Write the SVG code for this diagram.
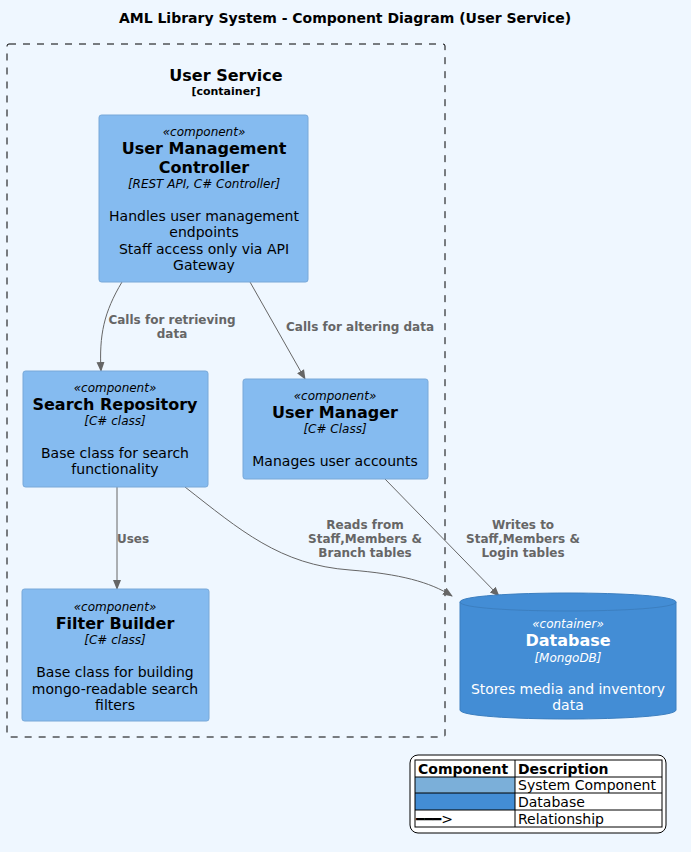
<svg xmlns="http://www.w3.org/2000/svg" width="691" height="852" viewBox="0 0 691 852">
<defs>
<style>
text{font-family:"DejaVu Sans",sans-serif;text-anchor:middle}
.st{font-size:12px;font-style:italic}
.nm{font-size:16px;font-weight:bold}
.ds{font-size:14px}
.el{font-size:12px;font-weight:bold;fill:#666666}
.comp{fill:#85BBF0;stroke:#78A8D8;stroke-width:1}
.edge{fill:none;stroke:#666666;stroke-width:1}
.lg{font-size:14px;text-anchor:start}
</style>
<marker id="arr" viewBox="0 0 10 10" refX="9" refY="5" markerWidth="10" markerHeight="10" markerUnits="userSpaceOnUse" orient="auto">
<path d="M0,1 L10,5 L0,9 Z" fill="#666666"/>
</marker>
</defs>
<rect width="691" height="852" fill="#EFF7FF"/>
<text x="345" y="23" style="font-size:14px;font-weight:bold">AML Library System - Component Diagram (User Service)</text>

<g id="user-service">
<rect x="7" y="44" width="438" height="693" rx="2" fill="none" stroke="#000" stroke-dasharray="7,7"/>
<text x="226" y="81" class="nm">User Service</text>
<text x="226" y="95" style="font-size:11px;font-weight:bold">[container]</text>
</g>

<g id="edges">
<path class="edge" marker-end="url(#arr)" d="M122,282 C104,312 99,335 101,371"/>
<text x="172" y="324" class="el">Calls for retrieving</text>
<text x="172" y="338" class="el">data</text>
<path class="edge" marker-end="url(#arr)" d="M250,282 L305,379"/>
<text x="360" y="331" class="el">Calls for altering data</text>
<path class="edge" marker-end="url(#arr)" d="M117,487 L117,589"/>
<text x="133" y="543" class="el">Uses</text>
<path class="edge" marker-end="url(#arr)" d="M185,487 C240,530 280,565 350,570 C400,574 430,582 452,596"/>
<text x="365" y="529" class="el">Reads from</text>
<text x="365" y="543" class="el">Staff,Members &amp;</text>
<text x="365" y="557" class="el">Branch tables</text>
<path class="edge" marker-end="url(#arr)" d="M385,479 L499,596"/>
<text x="523" y="529" class="el">Writes to</text>
<text x="523" y="543" class="el">Staff,Members &amp;</text>
<text x="523" y="557" class="el">Login tables</text>
</g>

<g id="user-management-controller">
<rect class="comp" x="99" y="115" width="209" height="167" rx="2.5"/>
<text x="204" y="136" class="st">«component»</text>
<text x="204" y="154" class="nm">User Management</text>
<text x="204" y="173" class="nm">Controller</text>
<text x="204" y="188" class="st">[REST API, C# Controller]</text>
<text x="204" y="221" class="ds">Handles user management</text>
<text x="204" y="237" class="ds">endpoints</text>
<text x="204" y="254" class="ds">Staff access only via API</text>
<text x="204" y="270" class="ds">Gateway</text>
</g>

<g id="search-repository">
<rect class="comp" x="23" y="371" width="185" height="116" rx="2.5"/>
<text x="115" y="392" class="st">«component»</text>
<text x="115" y="410" class="nm">Search Repository</text>
<text x="115" y="425" class="st">[C# class]</text>
<text x="115" y="458" class="ds">Base class for search</text>
<text x="115" y="474" class="ds">functionality</text>
</g>

<g id="user-manager">
<rect class="comp" x="243" y="379" width="185" height="100" rx="2.5"/>
<text x="335" y="400" class="st">«component»</text>
<text x="335" y="418" class="nm">User Manager</text>
<text x="335" y="433" class="st">[C# Class]</text>
<text x="335" y="466" class="ds">Manages user accounts</text>
</g>

<g id="filter-builder">
<rect class="comp" x="22" y="589" width="187" height="132" rx="2.5"/>
<text x="115" y="611" class="st">«component»</text>
<text x="115" y="629" class="nm">Filter Builder</text>
<text x="115" y="644" class="st">[C# class]</text>
<text x="115" y="677" class="ds">Base class for building</text>
<text x="115" y="694" class="ds">mongo-readable search</text>
<text x="115" y="710" class="ds">filters</text>
</g>

<g id="database">
<path d="M460,602 C460,590 676,590 676,602 L676,710 C676,722 460,722 460,710 Z" fill="#438DD5" stroke="#3C7FC0"/>
<path d="M460,602 C460,614 676,614 676,602" fill="none" stroke="#3C7FC0"/>
<text x="568" y="628" class="st" fill="#fff">«container»</text>
<text x="568" y="646" class="nm" fill="#fff">Database</text>
<text x="568" y="662" class="st" fill="#fff">[MongoDB]</text>
<text x="568" y="694" class="ds" fill="#fff">Stores media and inventory</text>
<text x="568" y="710" class="ds" fill="#fff">data</text>
</g>

<g id="legend">
<rect x="410" y="755" width="256" height="78" rx="8" fill="#fff" stroke="#000"/>
<rect x="415" y="777" width="100" height="16" fill="#7BAFD9"/>
<rect x="415" y="793" width="100" height="17" fill="#438DD5"/>
<g fill="none" stroke="#000" stroke-width="1">
<rect x="415" y="760" width="247" height="67"/>
<line x1="515" y1="760" x2="515" y2="827"/>
<line x1="415" y1="777" x2="662" y2="777"/>
<line x1="415" y1="793" x2="662" y2="793"/>
<line x1="415" y1="810" x2="662" y2="810"/>
</g>
<text x="418" y="774" class="lg" font-weight="bold">Component</text>
<text x="518" y="774" class="lg" font-weight="bold">Description</text>
<text x="518" y="790" class="lg">System Component</text>
<text x="518" y="807" class="lg">Database</text>
<text x="416" y="824" class="lg">━━━&gt;</text>
<text x="518" y="824" class="lg">Relationship</text>
</g>
</svg>
